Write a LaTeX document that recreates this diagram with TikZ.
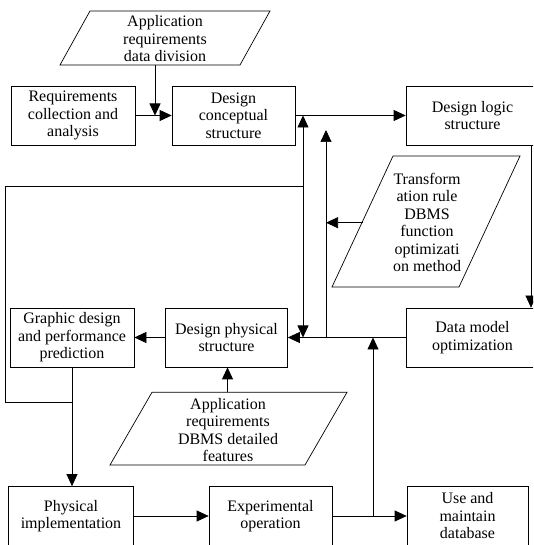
\documentclass[tikz,border=0pt]{standalone}
\usepackage{fontspec}
\setmainfont{Liberation Serif}
\usetikzlibrary{arrows.meta}
\tikzset{
  box/.style={draw, rectangle, align=center, inner sep=0pt, minimum height=59pt},
  paratext/.style={align=center, inner sep=0pt},
  flow/.style={-{Triangle[length=12pt,width=11pt]}},
  twoway/.style={{Triangle[length=12pt,width=11pt]}-{Triangle[length=12pt,width=11pt]}}
}
\begin{document}
\begin{tikzpicture}[x=1pt, y=1pt, line width=0.7pt, font=\fontsize{16}{17.5}\selectfont]
            \useasboundingbox (0, 0) rectangle (533, 545);
            \clip (0, 0) rectangle (533, 545);
            \node[box, minimum width=124pt] (req) at (73, 429.5) {Requirements\\collection and\\analysis};
            \node[box, minimum width=123pt] (concept) at (233.5, 429.5) {Design\\conceptual\\structure};
            \node[box, minimum width=133pt] (logic) at (472.5, 429.5) {Design logic\\structure};
            \node[box, minimum width=124pt] (graphic) at (72, 207.5) {Graphic design\\and performance\\prediction};
            \node[box, minimum width=122pt] (physical) at (226.5, 207.5) {Design physical\\structure};
            \node[box, minimum width=133pt] (datamodel) at (472.5, 207.5) {Data model\\optimization};
            \node[box, minimum width=125pt] (impl) at (71, 29) {Physical\\implementation};
            \node[box, minimum width=123pt] (exper) at (270.5, 29) {Experimental\\operation};
            \node[box, minimum width=121pt] (usedb) at (467.5, 29) {Use and\\maintain\\database};
            \node[paratext] (appdata) at (165, 506) {Application\\requirements\\data division};
            \draw (90, 534) -- (270, 534) -- (240, 480) -- (60, 480) -- cycle;
            \node[paratext] (transform) at (427, 322.5) {Transform\\ation rule\\DBMS\\function\\optimizati\\on method};
            \draw (393, 389) -- (520, 389) -- (459, 258) -- (332, 258) -- cycle;
            \node[paratext] (appdbms) at (228, 115) {Application\\requirements\\DBMS detailed\\features};
            \draw (152, 152.7) -- (347, 152.7) -- (305, 80) -- (110, 80) -- cycle;
            \coordinate (appdataout) at (155, 480);
            \coordinate (transformout) at (363, 322.3);
            \coordinate (appdbmsout) at (227.5, 152.7);
            \coordinate (junctop) at (303, 429.5);
            \coordinate (junclow) at (303, 207.5);
            \coordinate (fbstart) at (303, 358.3);
            \coordinate (fbend) at (72, 142.3);
            \coordinate (riserlow) at (326, 207.5);
            \coordinate (risertop) at (326, 415);
            \coordinate (feedup) at (373, 29);
            \draw[flow] (req) -- (concept);
            \draw[flow] (appdataout) -- (appdataout |- concept.west);
            \draw[flow] (concept) -- (logic);
            \draw[flow] ([xshift=58.5pt]logic.south) -- ([xshift=58.5pt]datamodel.north);
            \draw[flow] (datamodel) -- (physical);
            \draw[flow] (physical) -- (graphic);
            \draw[twoway] (junclow) -- (junctop);
            \draw (fbstart) -- ++(-298, 0) |- (fbend);
            \draw[flow] (graphic.south) -- (graphic.south |- impl.north);
            \draw[flow] (riserlow) -- (risertop);
            \draw[flow] (transformout) -- (transformout -| risertop);
            \draw[flow] (appdbmsout) -- (appdbmsout |- physical.south);
            \draw[flow] (impl) -- (exper);
            \draw[flow] (exper) -- (usedb);
            \draw[flow] (feedup) -- (feedup |- datamodel.west);
\end{tikzpicture}
\end{document}
